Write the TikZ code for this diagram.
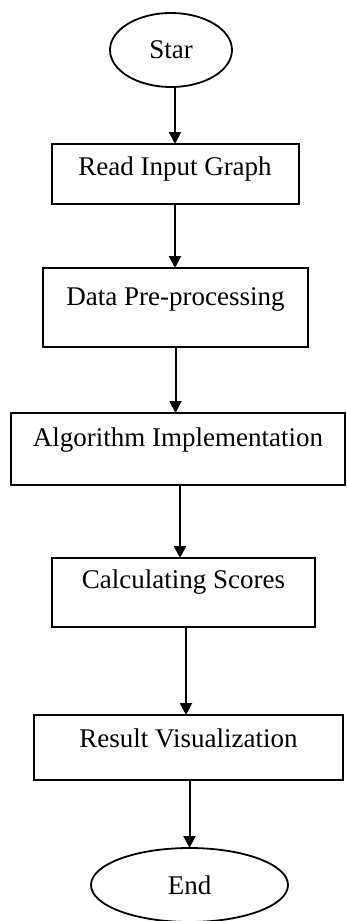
\documentclass[tikz,border=0pt]{standalone}
\usepackage{fontspec}
\setmainfont{Liberation Serif}
\usetikzlibrary{shapes.geometric,arrows.meta}
\begin{document}
\begin{tikzpicture}[x=1pt,y=-1pt,
  every node/.style={font=\fontsize{27}{30}\selectfont, inner sep=0pt, outer sep=0pt},
  terminal/.style={draw, ellipse, line width=1.8pt},
  stepbox/.style={draw, rectangle, line width=2pt},
  flow/.style={-{Triangle[length=12pt,width=12pt]}, line width=2pt}]
\useasboundingbox (0,0) rectangle (346,921);
\clip (0,0) rectangle (346,921);

\node[terminal, minimum width=122pt, minimum height=74pt] (star) at (171,50) {Star};
\node[stepbox, minimum width=247pt, text height=31pt, text depth=29pt] (read) at (175,174) {Read Input Graph};
\node[stepbox, minimum width=265pt, text height=37pt, text depth=42pt] (data) at (175.5,307.5) {Data Pre-processing};
\node[stepbox, minimum width=334pt, text height=33pt, text depth=39pt] (algo) at (178,449) {Algorithm Implementation};
\node[stepbox, minimum width=263pt, text height=30pt, text depth=39pt] (calc) at (183.5,592.5) {Calculating Scores};
\node[stepbox, minimum width=309pt, text height=32pt, text depth=33pt] (result) at (188.5,747.5) {Result Visualization};
\node[terminal, minimum width=197pt, minimum height=74pt] (end) at (189.5,885) {End};

% vertical connectors, each dropping onto the top of the next step
\draw[flow] (read.north |- star.south) -- (read.north);
\draw[flow] (read.south) -- (read.south |- data.north);
\draw[flow] (data.south) -- (data.south |- algo.north);
\draw[flow] ([xshift=2pt]algo.south) -- ([xshift=2pt]algo.south |- calc.north);
\draw[flow] ([xshift=2.5pt]calc.south) -- ([xshift=2.5pt]calc.south |- result.north);
\draw[flow] (end.north |- result.south) -- (end.north);
\end{tikzpicture}
\end{document}
